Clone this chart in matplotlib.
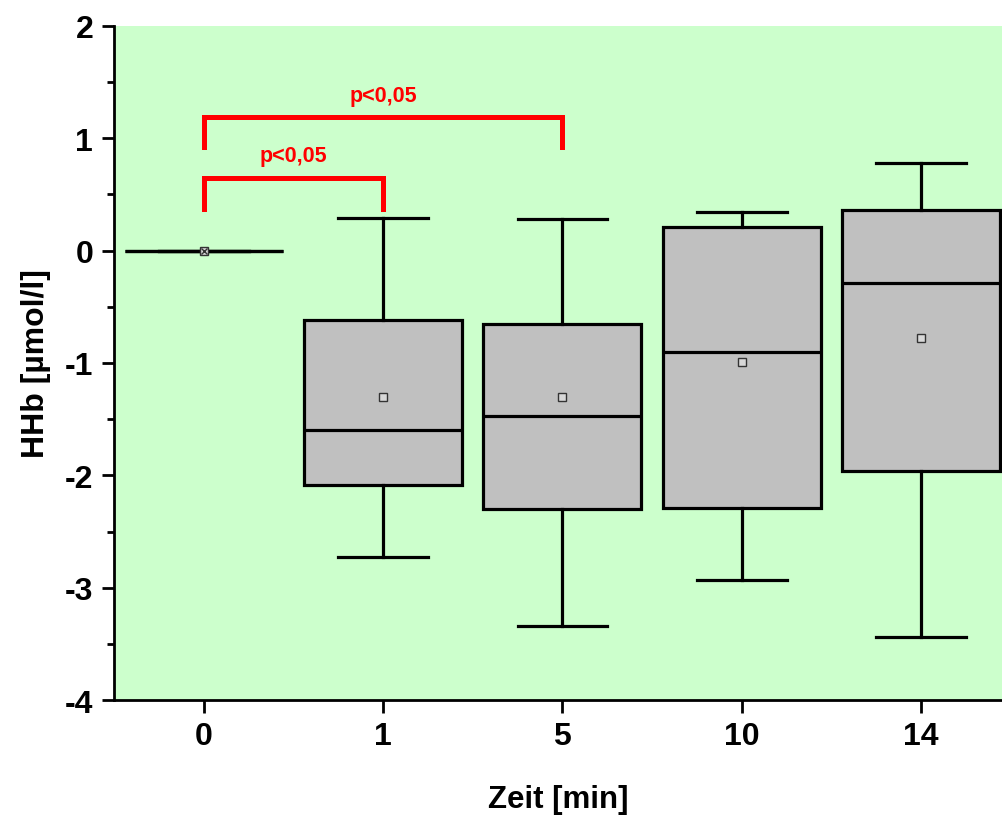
import matplotlib
matplotlib.use("Agg")
import matplotlib.pyplot as plt
import matplotlib.ticker as ticker

# -- data -------------------------------------------------------------------
times = ["0", "1", "5", "10", "14"]
whisk_lo = [0.0, -2.73, -3.34, -2.93, -3.44]
q1 = [0.0, -2.09, -2.30, -2.29, -1.96]
median = [0.0, -1.60, -1.47, -0.90, -0.29]
q3 = [0.0, -0.62, -0.65, 0.21, 0.365]
whisk_hi = [0.0, 0.29, 0.285, 0.34, 0.78]
mean = [0.0, -1.30, -1.30, -0.99, -0.78]

# significance brackets: (from index, to index, top, leg bottom, label)
brackets = [(0, 1, 0.65, 0.37, "p<0,05"),
            (0, 2, 1.19, 0.92, "p<0,05")]

plt.rcParams['font.family'] = ['Liberation Sans', 'DejaVu Sans']

fig = plt.figure(figsize=(10.03, 8.2), dpi=100)
ax = fig.add_axes([0.1137, 0.1451, 0.8863, 0.8220])
ax.set_facecolor('#CCFFCC')

stats = []
for i, t in enumerate(times):
    stats.append(dict(label=t, whislo=whisk_lo[i], q1=q1[i], med=median[i],
                      q3=q3[i], whishi=whisk_hi[i], mean=mean[i], fliers=[]))

pos = list(range(len(times)))
ax.bxp(stats, positions=pos, widths=0.88, patch_artist=True, showmeans=True,
       showfliers=False,
       boxprops=dict(facecolor='#C0C0C0', edgecolor='black', linewidth=2.3),
       medianprops=dict(color='black', linewidth=2.3),
       whiskerprops=dict(color='black', linewidth=2.3),
       capprops=dict(color='black', linewidth=2.3),
       meanprops=dict(marker='s', markersize=6, markerfacecolor='#D8D8D8',
                      markeredgecolor='#333333', markeredgewidth=1.0),
       capwidths=0.5)

# crossed marker for the zero group
ax.plot([pos[0]], [mean[0]], marker='x', markersize=5, color='#333333', mew=1.0, zorder=5)

for a, b, top, leg, label in brackets:
    ax.plot([pos[a], pos[a], pos[b], pos[b]], [leg, top, top, leg],
            color='red', linewidth=3.6, solid_joinstyle='miter', clip_on=False, zorder=4)
    ax.text((pos[a] + pos[b]) / 2, top + 0.1, label, color='red', fontsize=15.5,
            fontweight='bold', ha='center', va='bottom')

ax.set_xlim(-0.5, 4.457)
ax.set_ylim(-4, 2)
ax.set_xticks(pos)
ax.set_xticklabels(times)
ax.yaxis.set_major_locator(ticker.MultipleLocator(1))
ax.yaxis.set_minor_locator(ticker.MultipleLocator(0.5))
ax.yaxis.set_major_formatter(ticker.FuncFormatter(lambda y, _: f"{y:g}"))

for s in ['top', 'right']:
    ax.spines[s].set_visible(False)
for s in ['left', 'bottom']:
    ax.spines[s].set_linewidth(2.0)

ax.tick_params(axis='both', which='major', direction='out', length=9, width=2.0,
               labelsize=23, pad=6)
ax.tick_params(axis='y', which='minor', direction='out', length=5, width=2.0)
for lab in ax.get_xticklabels() + ax.get_yticklabels():
    lab.set_fontweight('bold')

ax.set_xlabel("Zeit [min]", fontsize=22.5, fontweight='bold', labelpad=24)
ax.set_ylabel("HHb [µmol/l]", fontsize=23, fontweight='bold', labelpad=10)

fig.savefig("out.png", dpi=100)
